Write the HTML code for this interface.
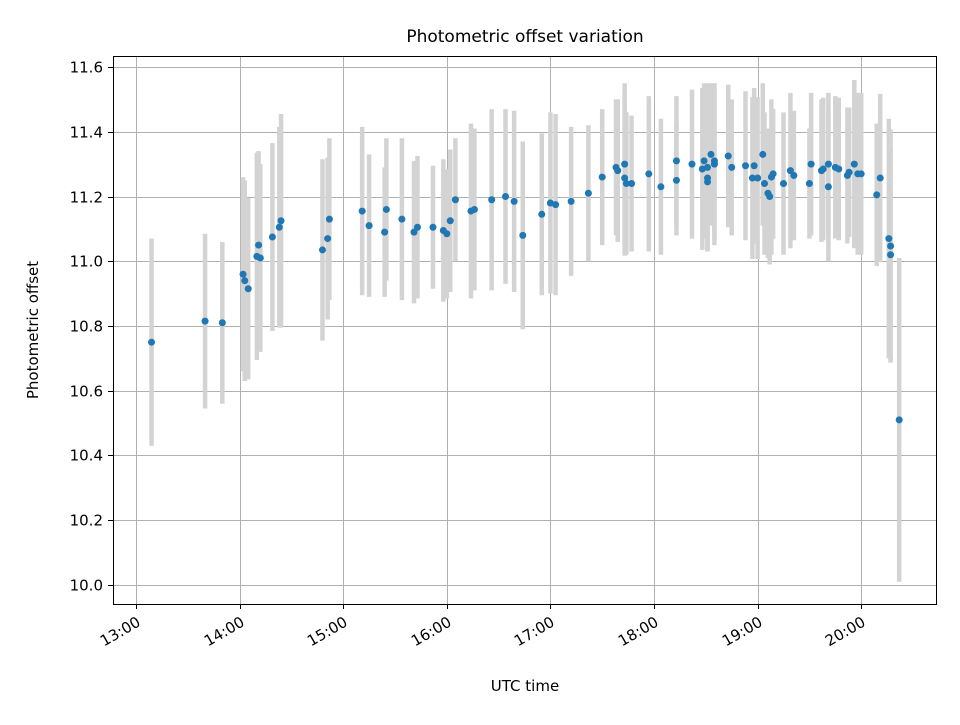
<!DOCTYPE html>
<html><head><meta charset="utf-8"><style>
body{margin:0;background:#fff;}
svg text{font-family:"DejaVu Sans","Liberation Sans",sans-serif;fill:#000;}
</style></head><body>
<svg id="chart" width="960" height="720" xmlns="http://www.w3.org/2000/svg">
<rect width="960" height="720" fill="#fff"/>
<g id="grid"></g>
<g id="bars"></g>
<g id="pts"></g>
<rect x="113.5" y="56.5" width="823" height="548" fill="none" stroke="#000" stroke-width="1"/>
<g id="axes"></g>
<text x="525" y="42" font-size="17" text-anchor="middle">Photometric offset variation</text>
<text x="525" y="691" font-size="15" text-anchor="middle">UTC time</text>
<text transform="translate(38,330) rotate(-90)" font-size="15" text-anchor="middle">Photometric offset</text>
</svg>
<script>
const times = ["13:09","13:40","13:50","14:02","14:03","14:05","14:10","14:11","14:12","14:19","14:23","14:24","14:48","14:51","14:52","15:11","15:15","15:24","15:25","15:34","15:41","15:43","15:52","15:58","16:00","16:02","16:05","16:14","16:16","16:26","16:34","16:39","16:44","16:55","17:00","17:03","17:12","17:22","17:30","17:38","17:39","17:43","17:43","17:44","17:47","17:57","18:04","18:13","18:13","18:22","18:28","18:29","18:31","18:31","18:31","18:33","18:35","18:35","18:43","18:45","18:53","18:57","18:58","19:00","19:03","19:04","19:06","19:07","19:08","19:09","19:15","19:19","19:21","19:30","19:31","19:37","19:38","19:41","19:41","19:45","19:47","19:52","19:53","19:56","19:58","20:00","20:09","20:11","20:16","20:17","20:17","20:22"];
const offsets = [10.75,10.815,10.81,10.96,10.94,10.915,11.015,11.05,11.01,11.075,11.105,11.125,11.035,11.07,11.13,11.155,11.11,11.09,11.16,11.13,11.09,11.105,11.105,11.095,11.085,11.125,11.19,11.155,11.16,11.19,11.2,11.185,11.08,11.145,11.18,11.175,11.185,11.21,11.26,11.29,11.28,11.30,11.257,11.24,11.24,11.27,11.23,11.25,11.31,11.30,11.285,11.31,11.29,11.257,11.245,11.33,11.30,11.31,11.325,11.29,11.295,11.257,11.295,11.257,11.33,11.24,11.21,11.20,11.26,11.27,11.24,11.28,11.265,11.24,11.30,11.28,11.285,11.23,11.30,11.29,11.285,11.265,11.275,11.30,11.27,11.27,11.205,11.257,11.07,11.047,11.02,10.51];
const errors = [0.32,0.27,0.25,0.30,0.31,0.28,0.32,0.29,0.29,0.29,0.31,0.33,0.28,0.25,0.25,0.26,0.22,0.20,0.22,0.25,0.22,0.22,0.19,0.22,0.20,0.22,0.19,0.27,0.25,0.28,0.27,0.28,0.29,0.25,0.28,0.28,0.23,0.21,0.21,0.21,0.22,0.25,0.24,0.22,0.21,0.24,0.21,0.17,0.20,0.23,0.25,0.24,0.26,0.22,0.21,0.22,0.25,0.24,0.22,0.21,0.23,0.25,0.24,0.25,0.22,0.22,0.20,0.21,0.24,0.20,0.22,0.24,0.20,0.17,0.22,0.22,0.22,0.23,0.22,0.22,0.22,0.21,0.20,0.26,0.25,0.25,0.22,0.26,0.37,0.36,0.33,0.50];
const yTicks = [10.0,10.2,10.4,10.6,10.8,11.0,11.2,11.4,11.6];
const xTicks = ["13:00","14:00","15:00","16:00","17:00","18:00","19:00","20:00"];
const NS="http://www.w3.org/2000/svg";
function toMin(t){const p=t.split(":");return +p[0]*60+ +p[1];}
function xs(t){return 136+(toMin(t)-780)/60*103.6;}
function ys(v){return 67+(11.6-v)*323.75;}
function px(v){return Math.round(v)+0.5;}
function mk(tag,attrs,parent){const e=document.createElementNS(NS,tag);for(const k in attrs)e.setAttribute(k,attrs[k]);document.getElementById(parent).appendChild(e);return e;}
yTicks.forEach(v=>{const y=px(ys(v));
 const g=mk("line",{x1:113,x2:937,y1:y,y2:y,stroke:"#b0b0b0","stroke-width":1},"grid");
 
 
 const tk=mk("line",{x1:108,x2:113,y1:y,y2:y,stroke:"#000"},"axes");
 
 
 const tx=mk("text",{x:103,y:y+5,"font-size":15,"text-anchor":"end"},"axes");
 tx.textContent=v.toFixed(1);
 
 
});
xTicks.forEach(t=>{const x=px(xs(t));
 const g=mk("line",{x1:x,x2:x,y1:56,y2:604,stroke:"#b0b0b0","stroke-width":1},"grid");
 
 
 const tk=mk("line",{x1:x,x2:x,y1:604,y2:609,stroke:"#000"},"axes");
 
 
 const tx=mk("text",{transform:"translate("+(x+5)+",625) rotate(-30)","font-size":15,"text-anchor":"end"},"axes");
 tx.textContent=t;
 
 
});
times.forEach((t,i)=>{const x=xs(t);
 const b=mk("line",{x1:x,x2:x,y1:ys(offsets[i]+errors[i]),y2:ys(offsets[i]-errors[i]),stroke:"#d3d3d3","stroke-width":4.5},"bars");
 
 
});
times.forEach((t,i)=>{
 const c=mk("circle",{cx:xs(t),cy:ys(offsets[i]),r:3.5,fill:"#1f77b4"},"pts");
 
 
});
</script>
</body></html>
